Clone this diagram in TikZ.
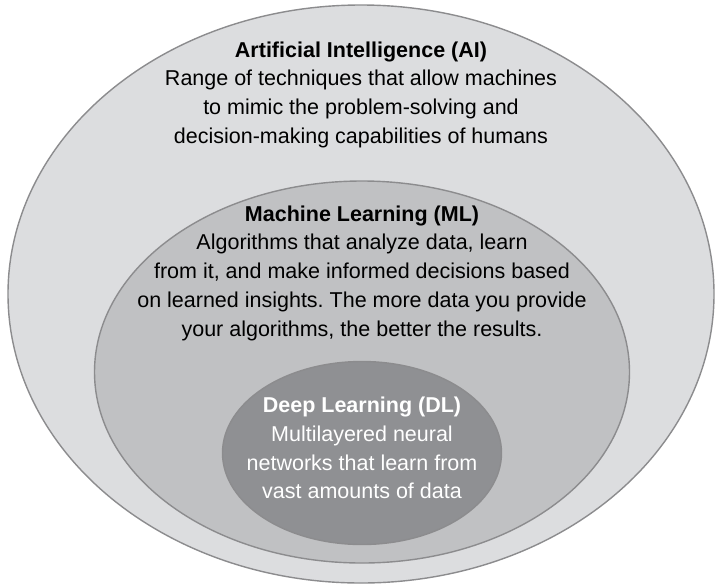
\documentclass[tikz,border=0pt]{standalone}
\usepackage{fontspec}
\setmainfont{Liberation Sans}
\frenchspacing
\usepackage{tikz}
\usetikzlibrary{shapes.geometric,positioning}
\definecolor{ringline}{HTML}{8C8C8E}
\definecolor{aifill}{HTML}{DCDDDF}
\definecolor{mlfill}{HTML}{C0C1C3}
\definecolor{dlfill}{HTML}{8F9093}

\begin{document}
\begin{tikzpicture}[
                x=1pt, y=-1pt,
                field/.style={ellipse, draw=ringline, line width=1.4pt, inner sep=0pt},
                desc/.style={align=center, inner sep=0pt, font=\fontsize{21.5}{28.8}\selectfont},
            ]

            \useasboundingbox[fill=white] (0,0) rectangle (717,587);

            \node[field, fill=aifill, minimum width=706pt, minimum height=578pt] (ai) at (361,294) {};
            \node[field, fill=mlfill, minimum width=535pt, minimum height=382pt] (ml) at (362,372) {};
            \node[field, fill=dlfill, minimum width=279pt, minimum height=183pt] (dl) at (362,453) {};

            \node[desc, below=37pt of ai.north] (aitext) {\textbf{Artificial Intelligence (AI)}\\
                Range of techniques that allow machines\\
                to mimic the problem-solving and\\
                decision-making capabilities of humans};

            \node[desc, below=25pt of ml.north] (mltext) {\textbf{Machine Learning (ML)}\\
                Algorithms that analyze data, learn\\
                from it, and make informed decisions based\\
                on learned insights. The more data you provide\\
                your algorithms, the better the results.};

            \node[desc, text=white, below=36pt of dl.north] (dltext) {\textbf{Deep Learning (DL)}\\
                Multilayered neural\\
                networks that learn from\\
                vast amounts of data};

        \end{tikzpicture}
\end{document}
